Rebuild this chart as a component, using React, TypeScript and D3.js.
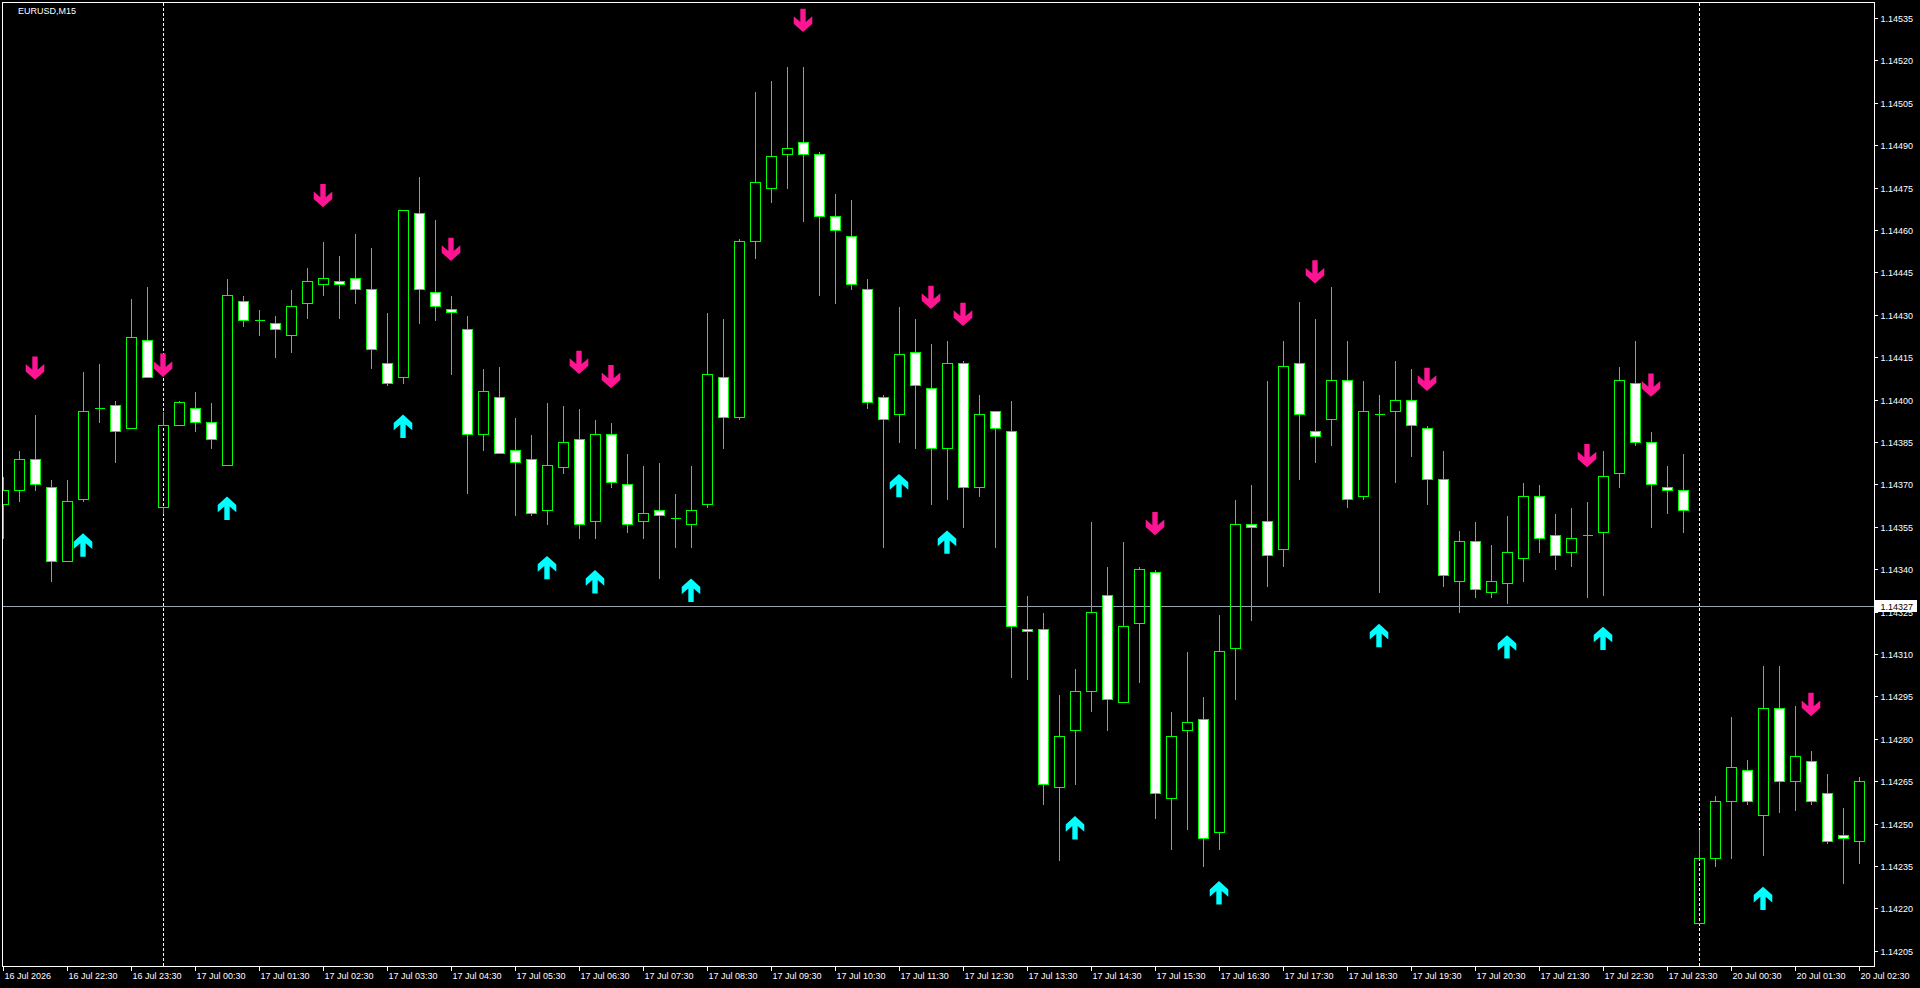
import React from 'react';
import * as d3 from 'd3';

// ---- data (EURUSD, M15) ----
const opens = [
  1.14363, 1.14368, 1.14379, 1.14369, 1.14343, 1.14365, 1.14397, 1.14398, 1.14390, 1.14421,
  1.14362, 1.14391, 1.14397, 1.14392, 1.14377, 1.14435, 1.14428, 1.14427, 1.14423, 1.14434,
  1.14441, 1.14442, 1.14443, 1.14439, 1.14413, 1.14408, 1.14466, 1.14438, 1.14432, 1.14425,
  1.14388, 1.14401, 1.14382, 1.14379, 1.14361, 1.14376, 1.14386, 1.14357, 1.14388, 1.14370,
  1.14357, 1.14361, 1.14358, 1.14356, 1.14363, 1.14408, 1.14394, 1.14456, 1.14475, 1.14487,
  1.14491, 1.14487, 1.14465, 1.14458, 1.14439, 1.14401, 1.14395, 1.14417, 1.14404, 1.14383,
  1.14413, 1.14369, 1.14396, 1.14389, 1.14319, 1.14319, 1.14263, 1.14283, 1.14297, 1.14331,
  1.14293, 1.14321, 1.14339, 1.14259, 1.14283, 1.14287, 1.14247, 1.14312, 1.14356, 1.14357,
  1.14347, 1.14413, 1.14389, 1.14393, 1.14407, 1.14366, 1.14395, 1.14396, 1.14400, 1.14390,
  1.14372, 1.14336, 1.14350, 1.14332, 1.14335, 1.14344, 1.14366, 1.14352, 1.14346, 1.14352,
  1.14353, 1.14374, 1.14406, 1.14385, 1.14369, 1.14368, 1.14215, 1.14238, 1.14258, 1.14269,
  1.14253, 1.14291, 1.14265, 1.14272, 1.14261, 1.14246, 1.14244,
];
const highs = [
  1.14373, 1.14382, 1.14395, 1.14372, 1.14372, 1.14410, 1.14413, 1.14400, 1.14436, 1.14440,
  1.14396, 1.14400, 1.14403, 1.14399, 1.14443, 1.14437, 1.14432, 1.14430, 1.14439, 1.14447,
  1.14456, 1.14451, 1.14459, 1.14454, 1.14431, 1.14467, 1.14479, 1.14464, 1.14437, 1.14430,
  1.14411, 1.14412, 1.14394, 1.14388, 1.14399, 1.14398, 1.14397, 1.14393, 1.14392, 1.14381,
  1.14377, 1.14378, 1.14367, 1.14377, 1.14431, 1.14429, 1.14457, 1.14509, 1.14513, 1.14518,
  1.14518, 1.14488, 1.14473, 1.14471, 1.14443, 1.14402, 1.14433, 1.14429, 1.14420, 1.14421,
  1.14414, 1.14402, 1.14396, 1.14400, 1.14331, 1.14325, 1.14296, 1.14305, 1.14357, 1.14341,
  1.14350, 1.14341, 1.14340, 1.14290, 1.14311, 1.14295, 1.14324, 1.14365, 1.14370, 1.14407,
  1.14421, 1.14435, 1.14429, 1.14440, 1.14421, 1.14407, 1.14402, 1.14414, 1.14411, 1.14391,
  1.14382, 1.14354, 1.14357, 1.14349, 1.14359, 1.14371, 1.14370, 1.14360, 1.14362, 1.14364,
  1.14382, 1.14412, 1.14421, 1.14389, 1.14377, 1.14381, 1.14248, 1.14260, 1.14288, 1.14273,
  1.14306, 1.14306, 1.14292, 1.14276, 1.14268, 1.14256, 1.14267,
];
const lows = [
  1.14351, 1.14364, 1.14368, 1.14336, 1.14343, 1.14364, 1.14392, 1.14378, 1.14390, 1.14408,
  1.14360, 1.14391, 1.14389, 1.14383, 1.14377, 1.14426, 1.14423, 1.14415, 1.14417, 1.14429,
  1.14437, 1.14429, 1.14434, 1.14411, 1.14405, 1.14406, 1.14427, 1.14428, 1.14409, 1.14367,
  1.14382, 1.14381, 1.14359, 1.14359, 1.14356, 1.14374, 1.14351, 1.14351, 1.14369, 1.14353,
  1.14351, 1.14337, 1.14348, 1.14348, 1.14362, 1.14383, 1.14393, 1.14450, 1.14470, 1.14475,
  1.14463, 1.14437, 1.14434, 1.14439, 1.14397, 1.14348, 1.14385, 1.14383, 1.14363, 1.14365,
  1.14355, 1.14366, 1.14348, 1.14302, 1.14301, 1.14257, 1.14237, 1.14264, 1.14290, 1.14283,
  1.14293, 1.14300, 1.14252, 1.14241, 1.14248, 1.14235, 1.14241, 1.14294, 1.14322, 1.14334,
  1.14341, 1.14372, 1.14378, 1.14384, 1.14362, 1.14365, 1.14332, 1.14371, 1.14380, 1.14363,
  1.14334, 1.14325, 1.14330, 1.14330, 1.14328, 1.14336, 1.14346, 1.14340, 1.14341, 1.14330,
  1.14331, 1.14369, 1.14384, 1.14355, 1.14360, 1.14353, 1.14215, 1.14235, 1.14238, 1.14257,
  1.14239, 1.14254, 1.14255, 1.14257, 1.14243, 1.14229, 1.14236,
];
const closes = [
  1.14368, 1.14379, 1.14370, 1.14343, 1.14364, 1.14396, 1.14397, 1.14389, 1.14422, 1.14408,
  1.14391, 1.14399, 1.14392, 1.14386, 1.14437, 1.14428, 1.14428, 1.14425, 1.14433, 1.14442,
  1.14443, 1.14441, 1.14439, 1.14418, 1.14406, 1.14467, 1.14439, 1.14433, 1.14431, 1.14388,
  1.14403, 1.14381, 1.14378, 1.14360, 1.14377, 1.14385, 1.14356, 1.14388, 1.14371, 1.14356,
  1.14360, 1.14359, 1.14358, 1.14361, 1.14409, 1.14394, 1.14456, 1.14477, 1.14486, 1.14489,
  1.14487, 1.14465, 1.14460, 1.14441, 1.14399, 1.14393, 1.14416, 1.14405, 1.14383, 1.14413,
  1.14369, 1.14395, 1.14390, 1.14320, 1.14318, 1.14264, 1.14281, 1.14297, 1.14325, 1.14294,
  1.14320, 1.14340, 1.14261, 1.14281, 1.14286, 1.14245, 1.14311, 1.14356, 1.14355, 1.14345,
  1.14412, 1.14395, 1.14387, 1.14407, 1.14365, 1.14396, 1.14395, 1.14400, 1.14391, 1.14372,
  1.14338, 1.14350, 1.14333, 1.14336, 1.14346, 1.14366, 1.14351, 1.14345, 1.14351, 1.14352,
  1.14373, 1.14407, 1.14385, 1.14370, 1.14368, 1.14361, 1.14238, 1.14258, 1.14270, 1.14258,
  1.14291, 1.14265, 1.14274, 1.14258, 1.14244, 1.14245, 1.14265,
];

// time labels: one every 4 bars, starting at bar 0
const timeLabels = [
  '16 Jul 2026', '16 Jul 22:30', '16 Jul 23:30', '17 Jul 00:30', '17 Jul 01:30', '17 Jul 02:30',
  '17 Jul 03:30', '17 Jul 04:30', '17 Jul 05:30', '17 Jul 06:30', '17 Jul 07:30', '17 Jul 08:30',
  '17 Jul 09:30', '17 Jul 10:30', '17 Jul 11:30', '17 Jul 12:30', '17 Jul 13:30', '17 Jul 14:30',
  '17 Jul 15:30', '17 Jul 16:30', '17 Jul 17:30', '17 Jul 18:30', '17 Jul 19:30', '17 Jul 20:30',
  '17 Jul 21:30', '17 Jul 22:30', '17 Jul 23:30', '20 Jul 00:30', '20 Jul 01:30', '20 Jul 02:30',
];
const labelStep = 4;
const daySeparatorBars = [10, 106];

const sellArrowBars = [2, 10, 20, 28, 36, 38, 50, 58, 60, 72, 82, 89, 99, 103, 113];
const buyArrowBars = [5, 14, 25, 34, 37, 43, 56, 59, 67, 76, 86, 94, 100, 110];

const priceTicks = [
  1.14205, 1.14220, 1.14235, 1.14250, 1.14265, 1.14280, 1.14295, 1.14310, 1.14325, 1.14340,
  1.14355, 1.14370, 1.14385, 1.14400, 1.14415, 1.14430, 1.14445, 1.14460, 1.14475, 1.14490,
  1.14505, 1.14520, 1.14535,
];
const currentPrice = 1.14327;
const symbolTitle = 'EURUSD,M15';

// ---- styling ----
const W = 1920;
const H = 988;
const FRAME = { left: 2.5, top: 2.5, right: 1874.5, bottom: 966.5 };
const GREEN = '#00ff00';
const FONT = '"Liberation Sans", Arial, sans-serif';

const downPath = 'M-2.7,-23.3L2.7,-23.3L2.7,-10L9.3,-15.7L9.3,-8.3L0,0L-9.3,-8.3L-9.3,-15.7L-2.7,-10Z';
const upPath = 'M-2.7,23.3L2.7,23.3L2.7,10L9.3,15.7L9.3,8.3L0,0L-9.3,8.3L-9.3,15.7L-2.7,10Z';

export default function App() {
  const n = opens.length;
  const x = d3.scaleLinear().domain([0, n - 1]).range([3.5, 3.5 + 16 * (n - 1)]);
  const y = d3
    .scaleLinear()
    .domain([priceTicks[0], priceTicks[priceTicks.length - 1]])
    .range([951.4, 18.4]);
  const snap = (v: number) => Math.round(v - 0.5) + 0.5;

  const bars = d3.range(n).map((i) => {
    const o = opens[i];
    const c = closes[i];
    const cx = x(i);
    const yHi = snap(y(highs[i]));
    const yLo = snap(y(lows[i]));
    const yTop = snap(y(Math.max(o, c)));
    const yBot = snap(y(Math.min(o, c)));
    const bear = c < o;
    return { i, cx, yHi, yLo, yTop, yBot, bear };
  });

  const cpY = snap(y(currentPrice));

  return (
    <svg
      width={W}
      height={H}
      style={{ position: 'absolute', left: 0, top: 0, background: '#000', display: 'block' }}
    >
      <defs>
        <clipPath id="plot">
          <rect x={FRAME.left} y={FRAME.top} width={FRAME.right - FRAME.left} height={FRAME.bottom - FRAME.top} />
        </clipPath>
      </defs>
      <rect x={0} y={0} width={W} height={H} fill="#000" />

      <g clipPath="url(#plot)">
        {/* day separators */}
        {daySeparatorBars.map((b) => (
          <line
            key={'sep' + b}
            x1={x(b)}
            x2={x(b)}
            y1={FRAME.top}
            y2={FRAME.bottom}
            stroke="#fff"
            strokeWidth={1}
            strokeDasharray="3,2"
            shapeRendering="crispEdges"
          />
        ))}
        {/* current price line */}
        <line
          x1={FRAME.left}
          x2={FRAME.right}
          y1={cpY}
          y2={cpY}
          stroke="#9aa2ac"
          strokeWidth={1}
          shapeRendering="crispEdges"
        />
        {/* candles */}
        {bars.map((b) => (
          <g key={'bar' + b.i} shapeRendering="crispEdges">
            {b.yHi < b.yTop && (
              <line x1={b.cx} x2={b.cx} y1={b.yHi} y2={b.yTop} stroke={GREEN} strokeWidth={1} />
            )}
            {b.yLo > b.yBot && (
              <line x1={b.cx} x2={b.cx} y1={b.yBot} y2={b.yLo} stroke={GREEN} strokeWidth={1} />
            )}
            {b.yBot - b.yTop < 1 ? (
              <line x1={b.cx - 5} x2={b.cx + 5} y1={b.yTop} y2={b.yTop} stroke={GREEN} strokeWidth={1} />
            ) : (
              <rect
                x={b.cx - 5}
                y={b.yTop}
                width={10}
                height={b.yBot - b.yTop}
                fill={b.bear ? '#ffffff' : 'none'}
                stroke={GREEN}
                strokeWidth={1}
              />
            )}
          </g>
        ))}
        {/* signal arrows */}
        {sellArrowBars.map((i) => (
          <path
            key={'dn' + i}
            d={downPath}
            transform={`translate(${x(i) - 0.5},${y(highs[i]) - 34.5})`}
            fill="#ff1493"
          />
        ))}
        {buyArrowBars.map((i) => (
          <path
            key={'up' + i}
            d={upPath}
            transform={`translate(${x(i) - 0.5},${y(lows[i]) + 31.5})`}
            fill="#00ffff"
          />
        ))}
      </g>

      {/* frame */}
      <rect
        x={FRAME.left}
        y={FRAME.top}
        width={FRAME.right - FRAME.left}
        height={FRAME.bottom - FRAME.top}
        fill="none"
        stroke="#fff"
        strokeWidth={1}
        shapeRendering="crispEdges"
      />

      {/* title */}
      <text x={18} y={14} fill="#fff" fontFamily={FONT} fontSize={9}>
        {symbolTitle}
      </text>

      {/* price axis */}
      {priceTicks.map((p) => {
        const yy = snap(y(p));
        return (
          <g key={'pt' + p}>
            <line x1={FRAME.right} x2={FRAME.right + 3} y1={yy} y2={yy} stroke="#fff" shapeRendering="crispEdges" />
            <text x={1880.5} y={yy + 3.3} fill="#fff" fontFamily={FONT} fontSize={9}>
              {p.toFixed(5)}
            </text>
          </g>
        );
      })}
      {/* current price label */}
      <rect x={1875} y={cpY - 6.5} width={42} height={12} fill="#fff" />
      <text x={1880.5} y={cpY + 3.3} fill="#000" fontFamily={FONT} fontSize={9}>
        {currentPrice.toFixed(5)}
      </text>

      {/* time axis */}
      {timeLabels.map((t, k) => {
        const xx = x(k * labelStep);
        return (
          <g key={'tl' + k}>
            <line x1={xx} x2={xx} y1={FRAME.bottom} y2={FRAME.bottom + 4} stroke="#fff" shapeRendering="crispEdges" />
            <text x={xx + 1} y={979} fill="#fff" fontFamily={FONT} fontSize={9}>
              {t}
            </text>
          </g>
        );
      })}
    </svg>
  );
}
